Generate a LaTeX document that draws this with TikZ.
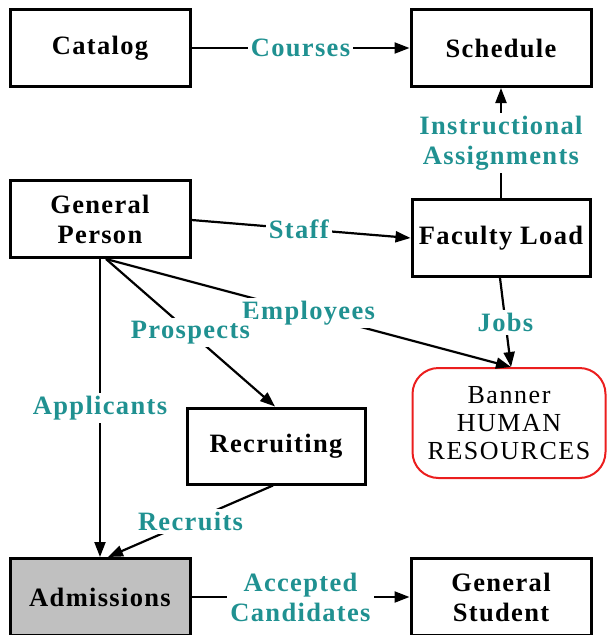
\documentclass[tikz,border=0pt]{standalone}
\usepackage{fontspec}
\setmainfont{Liberation Serif}
\newfontfamily\boxfont[LetterSpace=5]{Liberation Serif}
\newfontfamily\hrfont[LetterSpace=6]{Liberation Serif}
\usetikzlibrary{arrows.meta}
\definecolor{flowteal}{RGB}{32,145,145}
\definecolor{admgray}{RGB}{192,192,192}
\definecolor{hrred}{RGB}{235,30,30}
\begin{document}
\begin{tikzpicture}[x=1pt,y=-1pt,
  entity/.style={draw=black, line width=3pt, fill=white, inner sep=0pt,
    minimum width=180pt, minimum height=77pt, align=center,
    font=\boxfont\bfseries\fontsize{26.5}{30}\selectfont},
  system/.style={draw=hrred, line width=2pt, rounded corners=26pt, inner sep=0pt,
    minimum width=193pt, minimum height=110pt, align=center,
    font=\hrfont\fontsize{26}{28}\selectfont},
  flow/.style={line width=2.2pt, -{Triangle[length=15pt,width=11pt]}},
  lbl/.style={fill=white, text=flowteal, inner sep=3pt, align=center,
    font=\boxfont\bfseries\fontsize{26.5}{30}\selectfont}]
  \useasboundingbox (0,0) rectangle (606,635);

  % entities
  \node[entity] (catalog)  at (100,48)  {Catalog};
  \node[entity] (schedule) at (501,48)  {Schedule};
  \node[entity] (person)   at (100,219) {General\\Person};
  \node[entity, minimum width=178pt] (faculty) at (501,238) {Faculty Load};
  \node[entity, minimum width=178pt, minimum height=76pt] (recruit) at (276,446) {Recruiting};
  \node[entity, fill=admgray] (admit) at (100,597) {Admissions};
  \node[entity] (student)  at (501,597) {General\\Student};
  \node[system] (hr) at (509,423) {Banner\\HUMAN\\RESOURCES};

  % attachment points
  \coordinate (pdiag) at ([xshift=6pt]person.south);
  \coordinate (hrin)  at ([xshift=2pt]hr.north);
  \coordinate (fout)  at ([xshift=-1pt]faculty.south);
  \coordinate (rin)   at ([xshift=-1pt]recruit.north);
  \coordinate (rout)  at ([xshift=-3pt]recruit.south);
  \coordinate (ain)   at ([xshift=8pt]admit.north);

  % flows
  \draw[flow] (catalog) -- node[lbl] {Courses} (schedule);
  \draw[flow] (faculty) -- node[lbl] {Instructional\\Assignments} (schedule);
  \draw[flow] ([yshift=-1pt]person.east) -- node[lbl, pos=0.49] {Staff} (faculty.west);
  \draw[flow] (pdiag) -- node[lbl] {Employees} (hrin);
  \draw[flow] (fout) -- node[lbl] {Jobs} (hrin);
  \draw[flow] (pdiag) -- node[lbl] {Prospects} (rin);
  \draw[flow] (person) -- node[lbl] {Applicants} (admit);
  \draw[flow] (rout) -- node[lbl] {Recruits} (ain);
  \draw[flow] (admit) -- node[lbl] {Accepted\\Candidates} (student);
\end{tikzpicture}
\end{document}
